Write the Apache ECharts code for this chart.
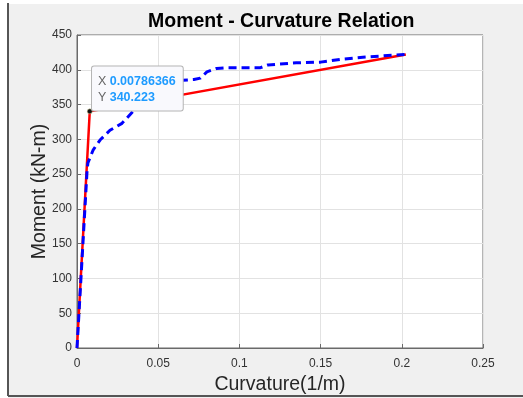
<!DOCTYPE html>
<html>
<head>
<meta charset="utf-8">
<script src="https://cdn.jsdelivr.net/npm/echarts@6/dist/echarts.min.js"></script>
<style>
  html, body { margin: 0; padding: 0; background: #ffffff; }
  #chart { width: 523px; height: 398px; }
</style>
</head>
<body>
<div id="chart"></div>
<script>
// Bilinear idealisation: origin, yield point, ultimate point
const bilinearCurvature = [0, 0.00786366, 0.2025];
const bilinearMoment = [0, 340.223, 422];

// Moment-curvature response from the section analysis
const curveCurvature = [0, 0.0062, 0.0067, 0.0100, 0.0142, 0.0203, 0.0277, 0.0340, 0.0400, 0.0460, 0.0520,
  0.0580, 0.0650, 0.0720, 0.0760, 0.0800, 0.0860, 0.0930, 0.1000, 0.1130, 0.1176, 0.1350,
  0.1500, 0.1620, 0.1760, 0.1880, 0.2025];
const curveMoment = [0, 255, 266, 285, 299, 313, 323, 339, 354, 362, 370,
  378, 385, 386, 388, 397, 402, 403, 403, 403, 407, 410,
  411, 415, 418, 420, 422];

const xTicks = { min: 0, max: 0.25, step: 0.05 };
const yTicks = { min: 0, max: 450, step: 50 };

const tipX = bilinearCurvature[1];
const tipY = bilinearMoment[1];

const FONT = 'Liberation Sans, Arial, sans-serif';

const chart = echarts.init(document.getElementById('chart'), null, { renderer: 'canvas' });

const axisCommon = {
  axisLine: { show: true, lineStyle: { color: '#6a6a6a', width: 1 } },
  axisTick: { show: true, inside: true, length: 4, lineStyle: { color: '#6a6a6a' } },
  splitLine: { show: true, lineStyle: { color: '#e2e2e2', width: 1 } },
  axisLabel: { color: '#333333', fontSize: 12, fontFamily: FONT },
  nameTextStyle: { color: '#262626', fontSize: 19.5, fontFamily: FONT },
  nameMoveOverlap: false
};

chart.setOption({
  backgroundColor: '#f0f0f0',
  animation: false,
  title: {
    text: 'Moment - Curvature Relation',
    left: 143,
    top: 7,
    textStyle: { color: '#000000', fontSize: 19.5, fontWeight: 'bold', fontFamily: FONT }
  },
  grid: {
    left: 77, top: 35, right: 40, bottom: 50,
    outerBoundsMode: 'none',
    containLabel: false,
    show: true, backgroundColor: '#ffffff', borderColor: '#6a6a6a', borderWidth: 1
  },
  xAxis: Object.assign({}, axisCommon, {
    type: 'value',
    min: xTicks.min, max: xTicks.max, interval: xTicks.step,
    name: 'Curvature(1/m)', nameLocation: 'middle', nameGap: 27,
    axisLabel: Object.assign({}, axisCommon.axisLabel, { margin: 10 })
  }),
  yAxis: Object.assign({}, axisCommon, {
    type: 'value',
    min: yTicks.min, max: yTicks.max, interval: yTicks.step,
    name: 'Moment (kN-m)', nameLocation: 'middle', nameGap: 27,
    axisLabel: Object.assign({}, axisCommon.axisLabel, { margin: 5 })
  }),
  graphic: [
    { type: 'rect', shape: { x: 0, y: 0, width: 523, height: 4 }, style: { fill: '#ffffff' }, z: 100 },
    { type: 'rect', shape: { x: 0, y: 0, width: 8, height: 398 }, style: { fill: '#ffffff' }, z: 100 },
    { type: 'line', shape: { x1: 8, y1: 3, x2: 8, y2: 396 }, style: { stroke: '#555555', lineWidth: 2 }, z: 101 },
    { type: 'line', shape: { x1: 8, y1: 396, x2: 523, y2: 396 }, style: { stroke: '#555555', lineWidth: 2 }, z: 101 }
  ],
  series: [
    {
      type: 'line',
      data: bilinearCurvature.map((c, i) => [c, bilinearMoment[i]]),
      showSymbol: false,
      lineStyle: { color: '#ff0000', width: 2.5 },
      z: 2
    },
    {
      type: 'line',
      data: curveCurvature.map((c, i) => [c, curveMoment[i]]),
      showSymbol: false,
      smooth: false,
      lineStyle: { color: '#0000ff', width: 3, type: [8, 5] },
      z: 3
    },
    {
      // data tip on the yield point
      type: 'scatter',
      zlevel: 1,
      data: [{
        value: [tipX, tipY],
        label: {
          show: true,
          opacity: 1,
          position: [5, -42],
          formatter: '{k|X} {v|' + tipX + '}\n{k|Y} {v|' + tipY + '}',
          backgroundColor: '#f9f9fd',
          borderColor: '#b4b4b4',
          borderWidth: 1,
          borderRadius: 2,
          padding: [7, 7, 5, 6],
          rich: {
            k: { color: '#666666', fontSize: 12.5, fontFamily: FONT, lineHeight: 16 },
            v: { color: '#1e9bff', fontSize: 12.5, fontWeight: 'bold', fontFamily: FONT, lineHeight: 16 }
          }
        }
      }],
      symbol: 'circle',
      symbolSize: 5,
      itemStyle: { color: '#111111', borderColor: '#d8d8a0', borderWidth: 0.5, opacity: 1 },
      z: 10
    }
  ]
});
</script>
</body>
</html>
